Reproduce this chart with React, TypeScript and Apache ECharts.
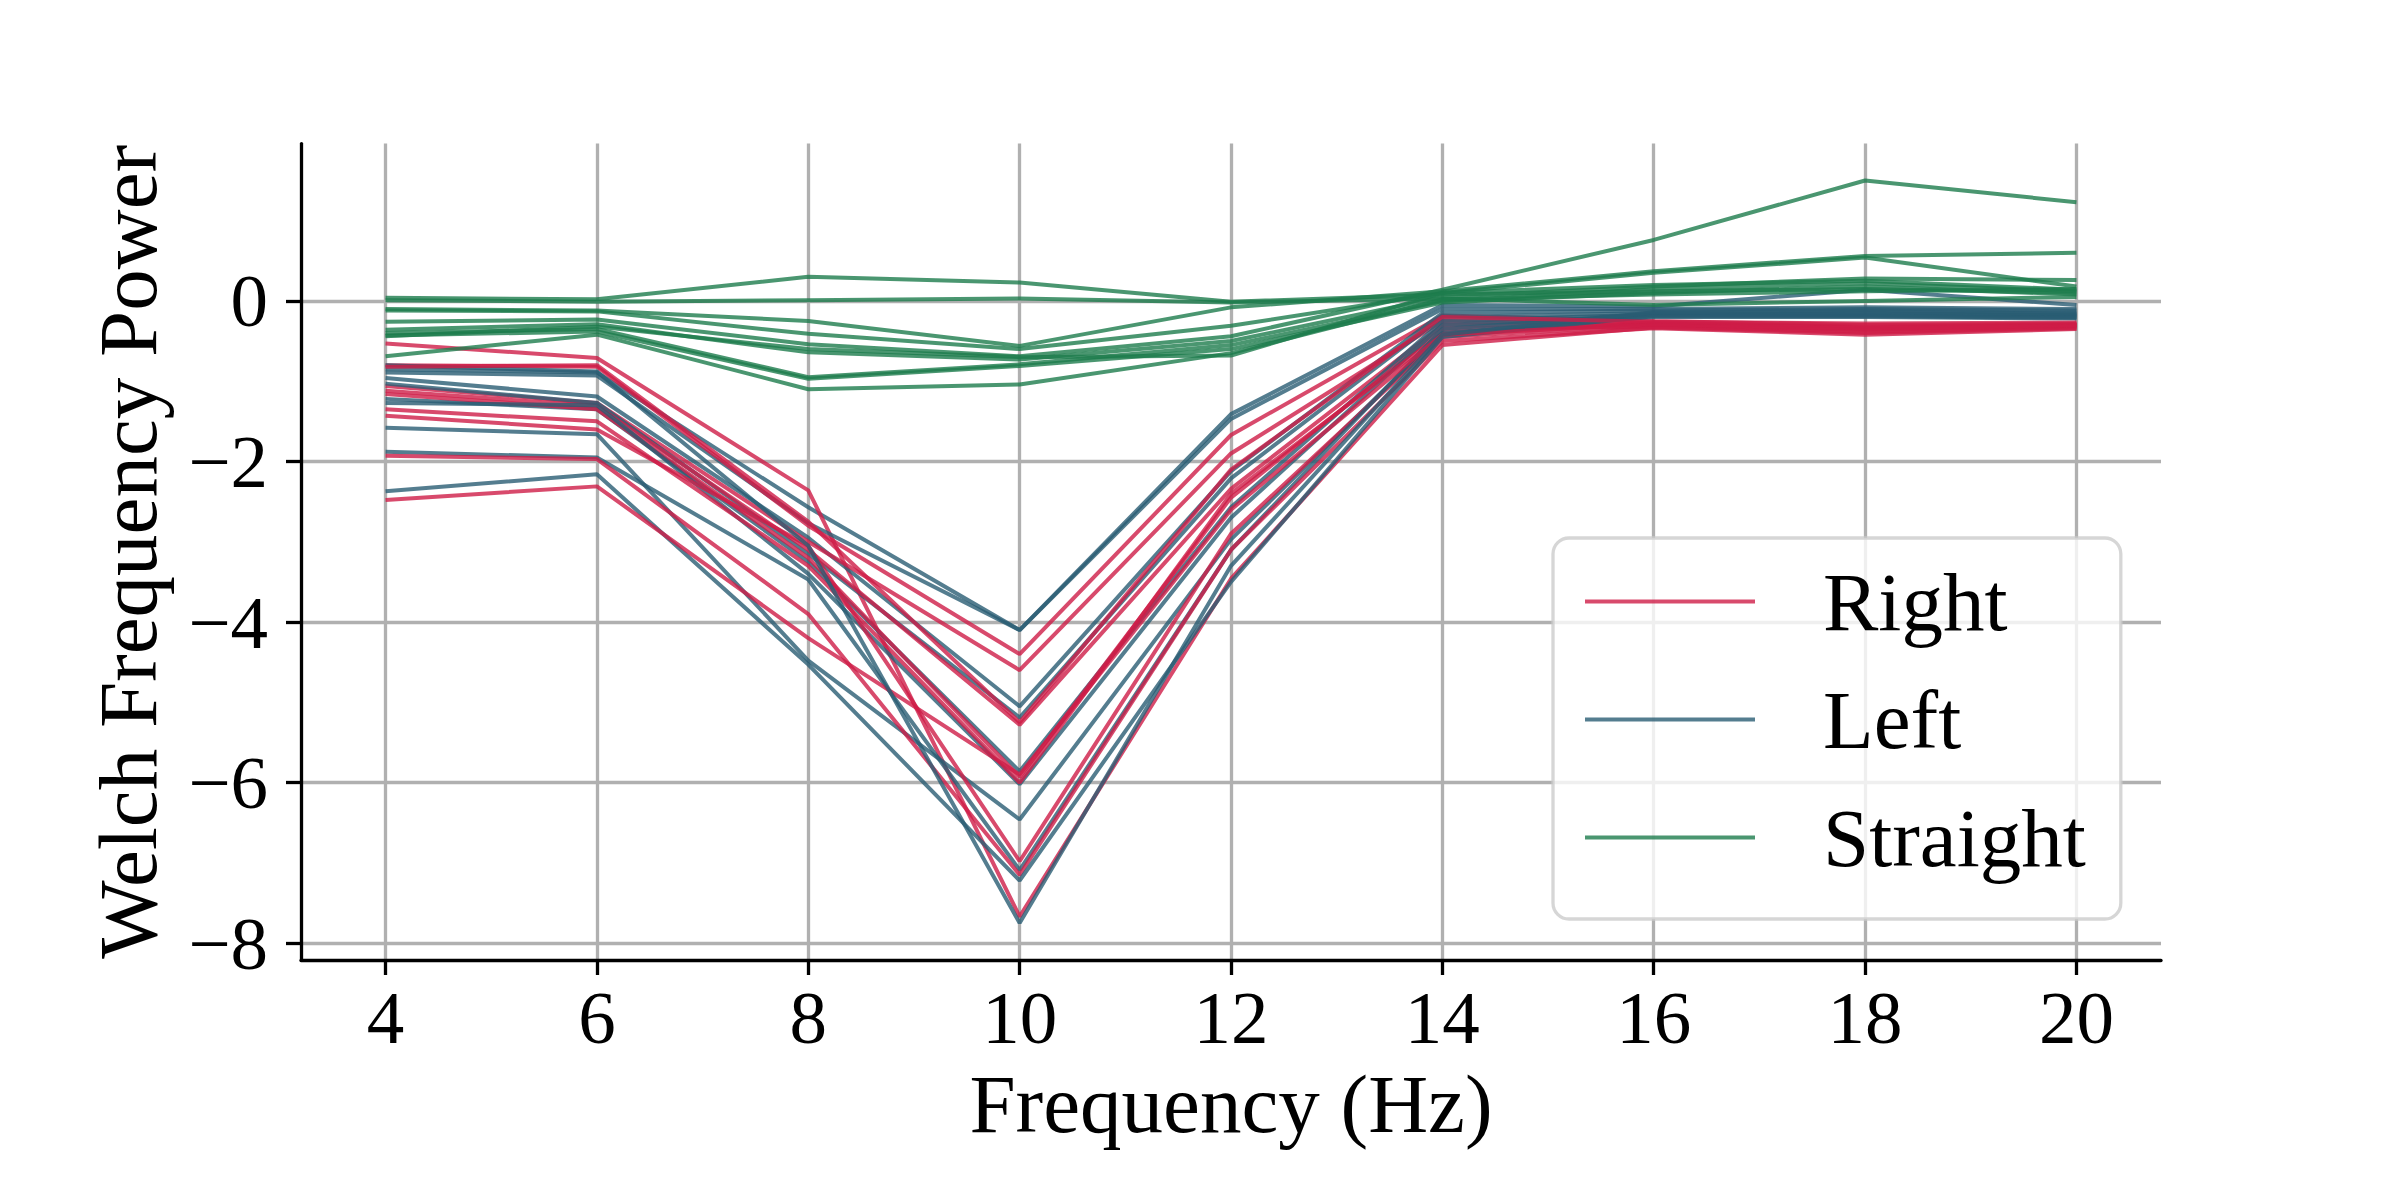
import React, { useEffect, useRef } from "react";
import * as echarts from "echarts";

const FREQS = [4, 6, 8, 10, 12, 14, 16, 18, 20];
const X_TICKS = [4, 6, 8, 10, 12, 14, 16, 18, 20];
const Y_TICKS = [-8, -6, -4, -2, 0];
const LEGEND_NAMES = ["Right", "Left", "Straight"];

const RIGHT_LINES = [
  [-0.53, -0.71, -2.36, -7.67, -3.46, -0.55, -0.33, -0.4, -0.34],
  [-0.8, -0.82, -2.8, -4.4, -1.67, -0.18, -0.25, -0.3, -0.28],
  [-1.06, -1.27, -3.0, -4.6, -1.9, -0.25, -0.28, -0.33, -0.3],
  [-1.12, -1.31, -3.1, -5.28, -2.34, -0.3, -0.3, -0.35, -0.32],
  [-1.16, -1.35, -3.2, -5.93, -2.45, -0.35, -0.32, -0.38, -0.33],
  [-1.35, -1.5, -3.3, -6.0, -2.4, -0.4, -0.27, -0.32, -0.29],
  [-1.43, -1.6, -3.05, -6.98, -2.9, -0.45, -0.3, -0.36, -0.31],
  [-1.93, -1.97, -3.9, -7.15, -3.1, -0.5, -0.34, -0.42, -0.35],
  [-2.48, -2.31, -4.2, -5.9, -2.6, -0.42, -0.29, -0.34, -0.3],
  [-0.82, -0.8, -2.75, -5.25, -2.1, -0.2, -0.26, -0.28, -0.27],
];

const LEFT_LINES = [
  [-0.85, -0.89, -2.57, -4.1, -1.41, -0.05, -0.07, 0.14, -0.05],
  [-0.89, -0.93, -2.77, -4.1, -1.47, -0.1, -0.1, -0.08, -0.1],
  [-0.96, -1.19, -2.95, -5.05, -2.12, -0.15, -0.12, -0.1, -0.12],
  [-1.03, -1.27, -3.15, -5.19, -2.21, -0.2, -0.15, -0.12, -0.15],
  [-1.22, -1.35, -3.25, -5.86, -2.57, -0.25, -0.17, -0.15, -0.18],
  [-1.27, -1.3, -3.4, -6.02, -2.7, -0.3, -0.18, -0.18, -0.2],
  [-1.58, -1.66, -4.48, -6.46, -2.97, -0.4, -0.2, -0.2, -0.22],
  [-1.88, -1.95, -3.47, -7.09, -3.1, -0.35, -0.16, -0.17, -0.17],
  [-2.37, -2.16, -4.53, -7.22, -3.5, -0.45, -0.19, -0.19, -0.21],
  [-0.8, -0.88, -3.05, -7.75, -3.3, -0.42, -0.14, -0.13, -0.16],
];

const STRAIGHT_LINES = [
  [0.04, 0.02, 0.3, 0.23, -0.01, 0.08, 0.12, 0.15, 0.1],
  [0.01, -0.01, 0.01, 0.03, -0.02, 0.03, -0.05, 0.0, 0.05],
  [-0.1, -0.12, -0.25, -0.56, -0.08, 0.12, 0.37, 0.56, 0.6],
  [-0.12, -0.13, -0.41, -0.6, -0.31, 0.1, 0.35, 0.54, 0.18],
  [-0.26, -0.23, -0.54, -0.69, -0.44, 0.14, 0.76, 1.5, 1.23],
  [-0.36, -0.29, -0.64, -0.73, -0.5, 0.05, 0.18, 0.28, 0.26],
  [-0.4, -0.35, -0.95, -0.79, -0.55, 0.0, 0.15, 0.22, 0.12],
  [-0.43, -0.38, -0.97, -0.81, -0.6, -0.02, 0.1, 0.18, 0.08],
  [-0.69, -0.42, -1.1, -1.04, -0.65, 0.02, 0.08, 0.12, 0.15],
  [-0.44, -0.32, -0.6, -0.7, -0.68, 0.1, 0.2, 0.25, 0.14],
];

const RED = "rgba(206,29,71,0.8)";
const BLUE = "rgba(41,92,115,0.8)";
const GREEN = "rgba(29,124,76,0.8)";
const FONT = '"Liberation Serif", "DejaVu Serif", serif';

function makeSeries(name: string, color: string, vals: number[]) {
  return {
    type: "line",
    name,
    data: FREQS.map((f, i) => [f, vals[i]]),
    symbol: "none",
    showSymbol: false,
    silent: true,
    lineStyle: { width: 4, color },
    itemStyle: { color },
    emphasis: { disabled: true },
  };
}

const fmtNum = (v: number) => (v < 0 ? "\u2212" + Math.abs(v) : String(v));

export default function App() {
  const ref = useRef<HTMLDivElement>(null);
  useEffect(() => {
    if (!ref.current) return;
    const chart = echarts.init(ref.current, undefined, { renderer: "svg" });
    const series: any[] = [];
    for (let i = 0; i < Math.max(LEFT_LINES.length, RIGHT_LINES.length); i++) {
      if (LEFT_LINES[i]) series.push(makeSeries("Left", BLUE, LEFT_LINES[i]));
      if (RIGHT_LINES[i]) series.push(makeSeries("Right", RED, RIGHT_LINES[i]));
    }
    STRAIGHT_LINES.forEach((v) => series.push(makeSeries("Straight", GREEN, v)));

    const axisCommon = {
      axisLine: { show: true, onZero: false, lineStyle: { color: "#000", width: 3.3 } },
      splitLine: { show: true, lineStyle: { color: "#b0b0b0", width: 3.3 } },
    };

    chart.setOption({
      animation: false,
      backgroundColor: "#ffffff",
      grid: { left: 301, top: 143.6, width: 1860, height: 816.4, containLabel: false },
      xAxis: {
        type: "value",
        min: 3.2,
        max: 20.8,
        ...axisCommon,
        axisTick: {
          show: true,
          length: 15,
          customValues: X_TICKS,
          lineStyle: { color: "#000", width: 3.3 },
        },
        axisLabel: {
          customValues: X_TICKS,
          margin: 20,
          fontFamily: FONT,
          fontSize: 75,
          color: "#000",
          formatter: (v: number) => fmtNum(v),
        },
        name: "Frequency (Hz)",
        nameLocation: "middle",
        nameGap: 102,
        nameTextStyle: { fontFamily: FONT, fontSize: 83, color: "#000" },
      },
      yAxis: {
        type: "value",
        min: -8.21,
        max: 1.96,
        ...axisCommon,
        axisTick: {
          show: true,
          length: 15,
          customValues: Y_TICKS,
          lineStyle: { color: "#000", width: 3.3 },
        },
        axisLabel: {
          customValues: Y_TICKS,
          margin: 33,
          fontFamily: FONT,
          fontSize: 75,
          color: "#000",
          formatter: (v: number) => fmtNum(v),
        },
        name: "Welch Frequency Power",
        nameLocation: "middle",
        nameGap: 132,
        nameRotate: 90,
        nameTextStyle: { fontFamily: FONT, fontSize: 83, color: "#000" },
      },
      legend: {
        orient: "vertical",
        left: 1553,
        top: 538,
        data: [
          { name: LEGEND_NAMES[0], icon: "rect", itemStyle: { color: RED } },
          { name: LEGEND_NAMES[1], icon: "rect", itemStyle: { color: BLUE } },
          { name: LEGEND_NAMES[2], icon: "rect", itemStyle: { color: GREEN } },
        ],
        itemWidth: 170,
        itemHeight: 4,
        itemGap: 35,
        padding: [22, 35, 40, 32],
        backgroundColor: "rgba(255,255,255,0.8)",
        borderColor: "rgba(204,204,204,0.8)",
        borderWidth: 3.3,
        borderRadius: 16,
        selectedMode: false,
        textStyle: {
          fontFamily: FONT,
          fontSize: 83,
          lineHeight: 83,
          color: "#000",
          padding: [0, 0, 0, 63],
        },
      },
      series,
    });
    return () => chart.dispose();
  }, []);
  return (
    <div
      ref={ref}
      style={{ position: "absolute", left: 0, top: 0, width: 2400, height: 1200 }}
    />
  );
}
